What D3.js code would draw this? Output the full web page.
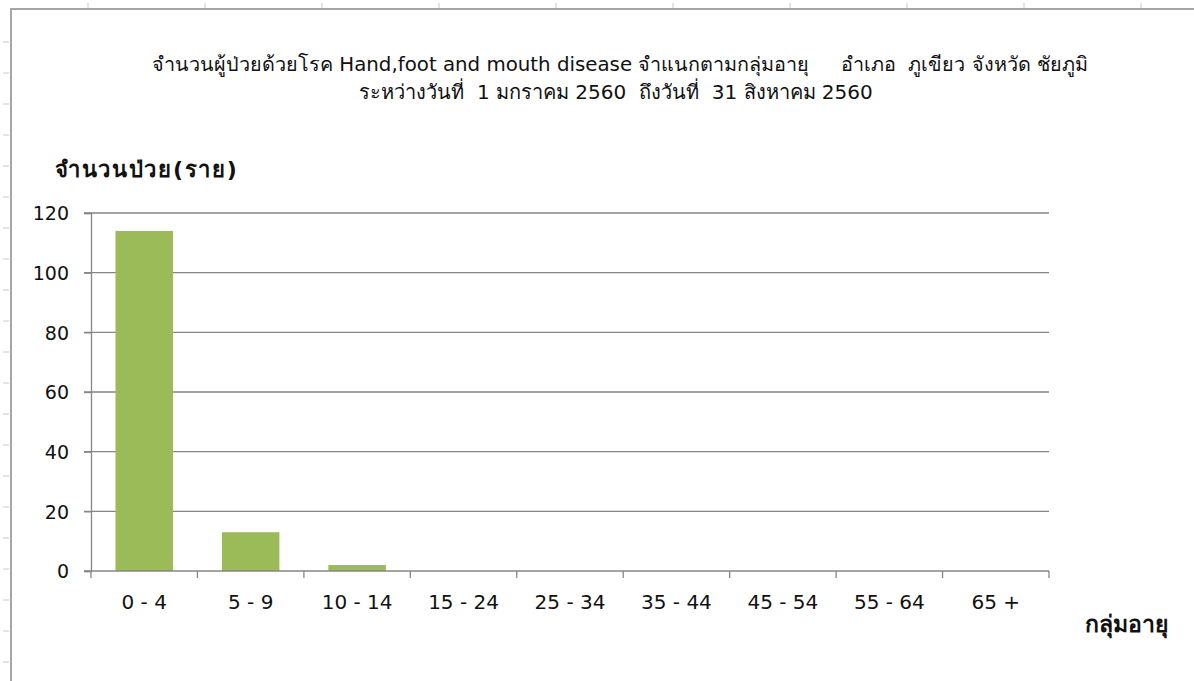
<!DOCTYPE html>
<meta charset="utf-8">
<script src="https://d3js.org/d3.v7.min.js"></script>
<style>
  body { margin: 0; background: #fff; }
  text { font-family: Tahoma, "DejaVu Sans", "Noto Sans", sans-serif; fill: #111; white-space: pre; }
</style>
<div id="my_dataviz"></div>
<script>

// data
var ageGroups = ["0 - 4", "5 - 9", "10 - 14", "15 - 24", "25 - 34", "35 - 44", "45 - 54", "55 - 64", "65 +"]
var patients = [114, 13, 2, 0, 0, 0, 0, 0, 0]
var yTicks = [0, 20, 40, 60, 80, 100, 120]

var width = 1194
    height = 681

var svg = d3.select("#my_dataviz")
  .append("svg")
    .attr("width", width)
    .attr("height", height)

// sheet frame (top / left border with small ruler ticks)
svg.append("path")
  .attr("d", "M11," + height + "V9H" + width)
  .attr("fill", "none")
  .attr("stroke", "#a6a6a6")
  .attr("stroke-width", 2)
var frameTicks = svg.append("g").attr("stroke", "#c8c8c8")
d3.range(42, height, 31).forEach(function(yy) {
  frameTicks.append("line").attr("x1", 3).attr("x2", 9).attr("y1", yy).attr("y2", yy)
})
d3.range(88, width, 117).forEach(function(xx) {
  frameTicks.append("line").attr("x1", xx).attr("x2", xx).attr("y1", 3).attr("y2", 8)
})

// plot area
var plotLeft = 91, plotRight = 1049, plotTop = 213, plotBottom = 571

var x = d3.scaleBand()
  .domain(ageGroups)
  .range([plotLeft, plotRight])
  .paddingInner(0.46)
  .paddingOuter(0.23)

var y = d3.scaleLinear()
  .domain([0, 120])
  .range([plotBottom, plotTop])

// gridlines
svg.append("g")
  .selectAll("line")
  .data(yTicks.filter(function(d){ return d > 0 }))
  .enter()
  .append("line")
    .attr("x1", plotLeft - 7)
    .attr("x2", plotRight)
    .attr("y1", function(d){ return y(d) })
    .attr("y2", function(d){ return y(d) })
    .attr("stroke", "#868686")
    .attr("stroke-width", 1.3)

// bars
svg.append("g")
  .selectAll("rect")
  .data(patients)
  .enter()
  .append("rect")
    .attr("x", function(d, i){ return x(ageGroups[i]) })
    .attr("y", function(d){ return y(d) })
    .attr("width", x.bandwidth())
    .attr("height", function(d){ return plotBottom - y(d) })
    .attr("fill", "#9bbb59")

// y axis
var yAxis = svg.append("g")
  .attr("transform", "translate(" + plotLeft + ",0)")
  .call(d3.axisLeft(y).tickValues(yTicks).tickSize(7).tickPadding(15))
yAxis.selectAll("line, path").attr("stroke", "#868686").attr("stroke-width", 1.3)
yAxis.selectAll("text").style("font-size", "19px").attr("fill", "#111").attr("dy", "0.36em")

// x axis with ticks between categories
var xAxis = svg.append("g")
  .attr("transform", "translate(0," + plotBottom + ")")
xAxis.append("line")
  .attr("x1", plotLeft - 7).attr("x2", plotRight)
  .attr("stroke", "#868686").attr("stroke-width", 1.3)
xAxis.selectAll(".tk")
  .data(d3.range(ageGroups.length + 1))
  .enter()
  .append("line")
    .attr("x1", function(i){ return plotLeft + i * x.step() })
    .attr("x2", function(i){ return plotLeft + i * x.step() })
    .attr("y1", 0).attr("y2", 7)
    .attr("stroke", "#868686").attr("stroke-width", 1.3)
xAxis.selectAll(".lbl")
  .data(ageGroups)
  .enter()
  .append("text")
    .attr("x", function(d){ return x(d) + x.bandwidth() / 2 })
    .attr("y", 38)
    .attr("text-anchor", "middle")
    .style("font-size", "20px")
    .text(function(d){ return d })

// titles
svg.append("text")
  .attr("x", 620).attr("y", 71)
  .attr("text-anchor", "middle")
  .style("font-size", "19.8px")
  .text("จำนวนผู้ป่วยด้วยโรค Hand,foot and mouth disease จำแนกตามกลุ่มอายุ     อำเภอ  ภูเขียว จังหวัด ชัยภูมิ")
svg.append("text")
  .attr("x", 616).attr("y", 99)
  .attr("text-anchor", "middle")
  .style("font-size", "20px")
  .text("ระหว่างวันที่  1 มกราคม 2560  ถึงวันที่  31 สิงหาคม 2560")

svg.append("text")
  .attr("x", 55).attr("y", 177)
  .style("font-size", "22px")
  .style("font-weight", "bold")
  .style("letter-spacing", "1.7px")
  .text("จำนวนป่วย(ราย)")

svg.append("text")
  .attr("x", 1085).attr("y", 632)
  .style("font-size", "23px")
  .style("font-weight", "bold")
  .text("กลุ่มอายุ")

</script>
